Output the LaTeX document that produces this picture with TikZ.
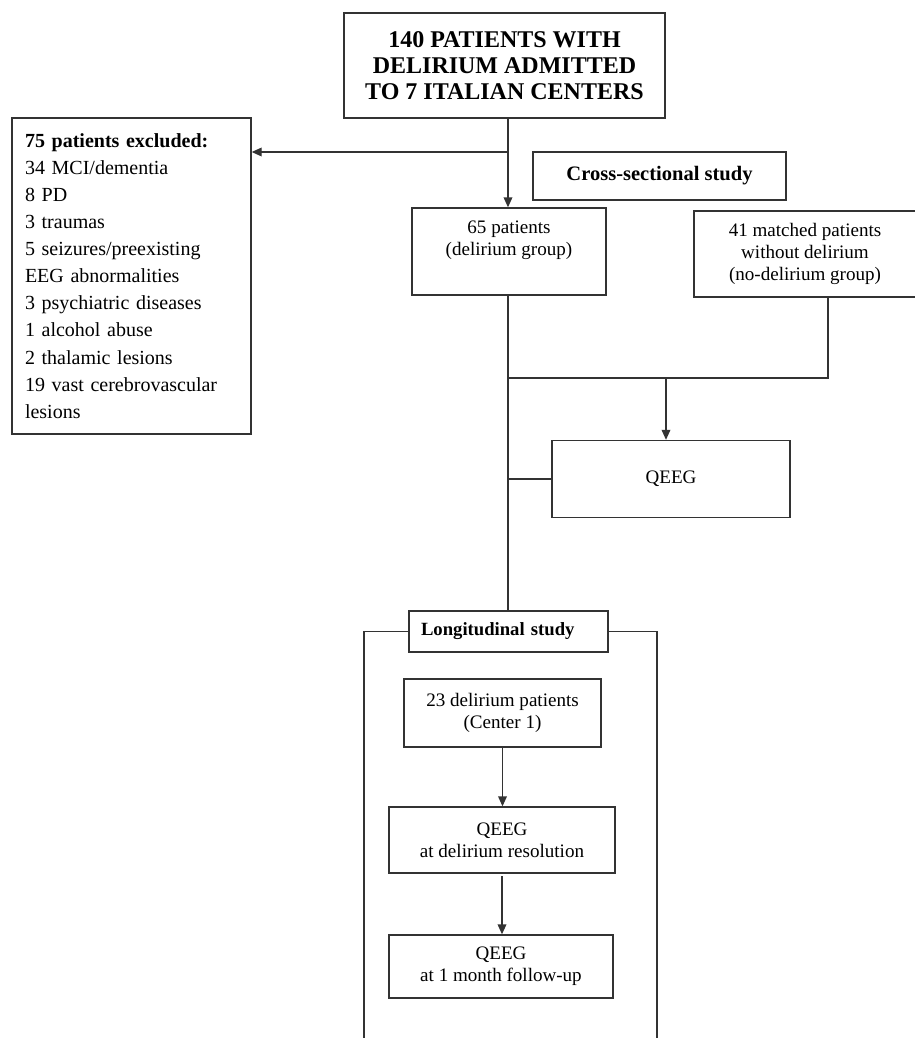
\documentclass[tikz,border=0pt]{standalone}
\usepackage{fontspec}
\setmainfont{Liberation Serif}
\usetikzlibrary{arrows.meta}
\begin{document}
\begin{tikzpicture}[x=0.75pt,y=-0.75pt,
  box/.style={draw=black!80, line width=1pt, inner sep=0pt, align=center, font=\fontsize{14.3}{16.5}\selectfont},
  plain/.style={inner sep=0pt, align=center, font=\fontsize{14.3}{16.5}\selectfont},
  conn/.style={draw=black!80, line width=1pt},
  arr/.style={conn, -{Triangle[length=7.5pt,width=6.5pt]}}]
\useasboundingbox (0,0) rectangle (914,1038);

\node[box, minimum width=240.75pt, minimum height=78.75pt, font=\bfseries\fontsize{18}{19.5}\selectfont] (top) at (504.5,65.5) {140 PATIENTS WITH\\DELIRIUM ADMITTED\\TO 7 ITALIAN CENTERS};

\node[box, minimum width=179.25pt, minimum height=237pt, text width=159.75pt, align=left, font=\fontsize{15}{20.3}\selectfont] (excl) at (131.5,276) {\textbf{75 patients excluded:}\\34 MCI/dementia\\8 PD\\3 traumas\\5 seizures/preexisting\\EEG abnormalities\\3 psychiatric diseases\\1 alcohol abuse\\2 thalamic lesions\\19 vast cerebrovascular\\lesions};

\node[box, minimum width=189.75pt, minimum height=36pt, font=\bfseries\fontsize{15.4}{16.5}\selectfont] (cross) at (659.5,176) {Cross-sectional study};

\node[box, minimum width=145.5pt, minimum height=65.25pt] (d65) at (509,251.5) {};
\node[plain] (d65t) at (509,240) {65 patients\\(delirium group)};

\node[box, minimum width=166.5pt, minimum height=64.5pt] (d41) at (805,254) {41 matched patients\\without delirium\\(no-delirium group)};

\node[box, minimum width=178.5pt, minimum height=57.75pt] (q1) at (671,479) {QEEG};

\node[box, minimum width=149.25pt, minimum height=30.75pt, text width=131.25pt, align=left, font=\bfseries\fontsize{14}{16.5}\selectfont] (lbl) at (508.5,631.5) {Longitudinal study};

\node[box, minimum width=147.75pt, minimum height=51pt] (d23) at (502.5,713) {23 delirium patients\\(Center 1)};
\node[box, minimum width=169.5pt, minimum height=49.5pt] (res) at (502,840) {QEEG\\at delirium resolution};
\node[box, minimum width=168pt, minimum height=47.25pt] (fu) at (501,966.5) {QEEG\\at 1 month follow-up};

\coordinate (j1) at (508,152);
\coordinate (j2) at (508,378);
\coordinate (j3) at (828,378);
\coordinate (j4) at (666,378);
\coordinate (fl) at (364,1042);
\coordinate (fr) at (657,1042);

\draw[arr] (top.south -| j1) -- (j1 |- d65.north);
\draw[arr] (j1) -- (j1 -| excl.east);
\draw[conn] (j1 |- d65.south) -- (j1 |- lbl.north);
\draw[conn] (j3 |- d41.south) -- (j3) -- (j2);
\draw[arr] (j4) -- (j4 |- q1.north);
\draw[conn] (q1.west) -- (q1.west -| j2);
\draw[conn] (lbl.west) -| (fl);
\draw[conn] (lbl.east) -| (fr);
\draw[arr] (d23.south) -- (d23.south |- res.north);
\draw[arr, shorten <=2pt] (res.south) -- (res.south |- fu.north);
\end{tikzpicture}
\end{document}
